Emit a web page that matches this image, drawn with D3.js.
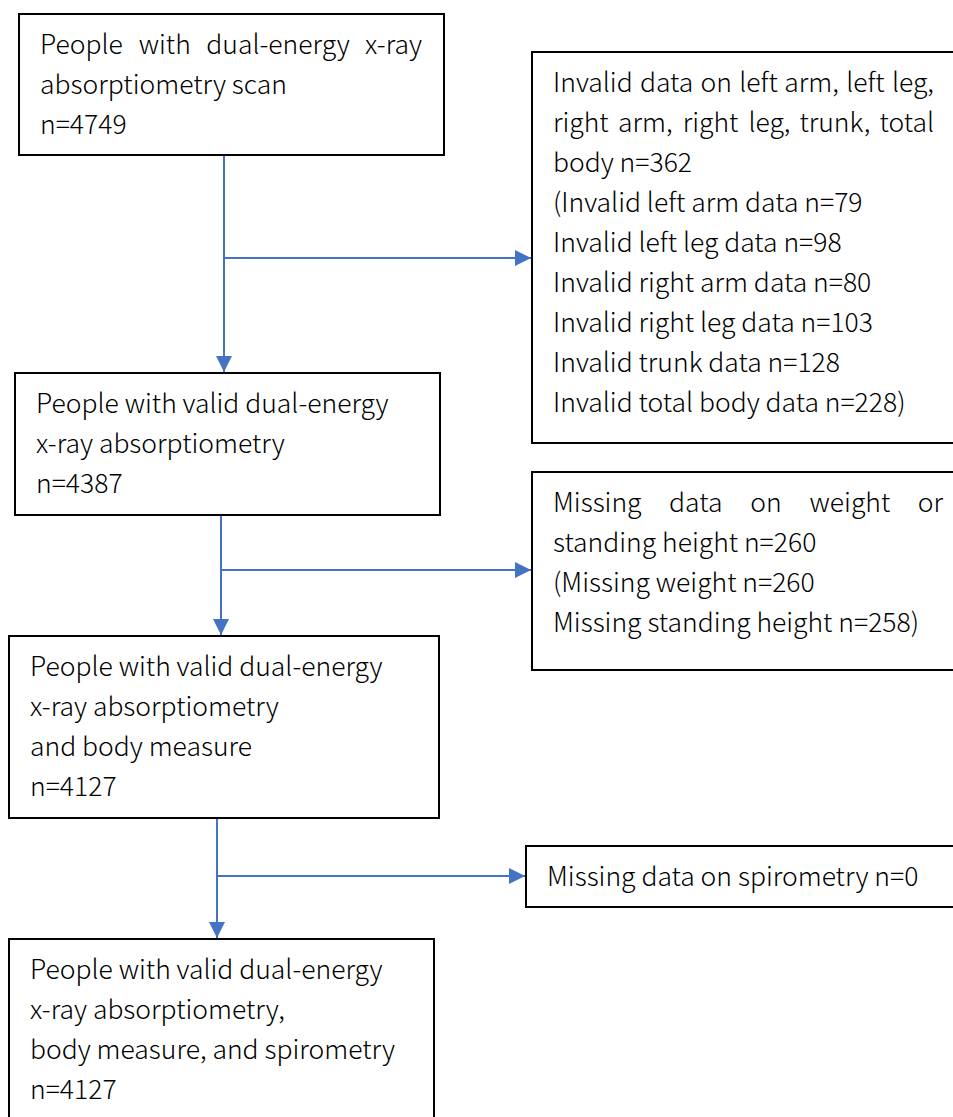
<!DOCTYPE html>
<html>
<head>
<meta charset="utf-8">
<style>
    body { margin: 0; background: #fff; }
    svg { display: block; }
    .box { fill: #fff; stroke: #000; stroke-width: 2; }
    .flow { stroke: #4472C4; stroke-width: 2; fill: none; }
    .label { font-family: "Noto Sans CJK SC", "Noto Sans", sans-serif; font-size: 26.5px; font-weight: 300; fill: #000; }
</style>
</head>
<body>
<svg width="953" height="1117"></svg>

<script src="https://cdn.jsdelivr.net/npm/d3@7/dist/d3.min.js"></script>
<script>
    // text of the main (left) boxes, top to bottom
    let mainText = [
        ["People with dual-energy x-ray", "absorptiometry scan", "n=4749"],
        ["People with valid dual-energy", "x-ray absorptiometry", "n=4387"],
        ["People with valid dual-energy", "x-ray absorptiometry", "and body measure", "n=4127"],
        ["People with valid dual-energy", "x-ray absorptiometry,", "body measure, and spirometry", "n=4127"]
    ]

    // text of the exclusion (right) boxes
    let exclText = [
        ["Invalid data on left arm, left leg,", "right arm, right leg, trunk, total", "body n=362",
         "(Invalid left arm data n=79", "Invalid left leg data n=98", "Invalid right arm data n=80",
         "Invalid right leg data n=103", "Invalid trunk data n=128", "Invalid total body data n=228)"],
        ["Missing data on weight or", "standing height n=260", "(Missing weight n=260", "Missing standing height n=258)"],
        ["Missing data on spirometry n=0"]
    ]

    // layout
    let mainBoxes = [
        { x: 19, y: 14, w: 425, h: 141, just: [382] },
        { x: 15, y: 373, w: 425, h: 142, just: [] },
        { x: 9, y: 636, w: 430, h: 182, just: [] },
        { x: 9, y: 939, w: 425, h: 200, just: [] }
    ]
    let exclBoxes = [
        { x: 532, y: 52, w: 440, h: 391, just: [381, 381] },
        { x: 532, y: 472, w: 440, h: 198, just: [390] },
        { x: 526, y: 846, w: 440, h: 61, just: [] }
    ]
    let connX = [224, 221, 217]
    let branchY = [258, 570, 876]

    let pad = 21, firstLine = 40, lineH = 40

    let svg = d3.select("svg")

    svg.append("defs").append("marker")
        .attr("id", "head")
        .attr("markerUnits", "userSpaceOnUse")
        .attr("viewBox", "0 0 16 16")
        .attr("refX", 16).attr("refY", 8)
        .attr("markerWidth", 16).attr("markerHeight", 16)
        .attr("orient", "auto")
        .append("path")
        .attr("d", "M0,0L16,8L0,16Z")
        .attr("fill", "#4472C4")

    function drawBox(b, lines) {
        let g = svg.append("g")
        g.append("rect").attr("class", "box")
            .attr("x", b.x).attr("y", b.y).attr("width", b.w).attr("height", b.h)

        lines.forEach((line, i) => {
            let x0 = b.x + pad, y = b.y + firstLine + i * lineH
            let t = g.append("text").attr("class", "label").attr("y", y)
            if (b.just[i]) {
                // justified line: spread words across the given width
                let words = line.split(" ")
                let spans = words.map(w => t.append("tspan").text(w))
                let widths = spans.map(s => s.node().getComputedTextLength())
                let gap = (b.just[i] - d3.sum(widths)) / (words.length - 1)
                let cx = x0
                spans.forEach((s, k) => {
                    s.attr("x", cx).attr("y", y)
                    cx += widths[k] + gap
                })
            } else {
                t.attr("x", x0).text(line)
            }
        })
    }

    mainBoxes.forEach((b, i) => drawBox(b, mainText[i]))
    exclBoxes.forEach((b, i) => drawBox(b, exclText[i]))

    // connectors
    connX.forEach((cx, i) => {
        let from = mainBoxes[i], to = mainBoxes[i + 1]
        svg.append("line").attr("class", "flow")
            .attr("x1", cx).attr("y1", from.y + from.h + 1)
            .attr("x2", cx).attr("y2", to.y - 1)
            .attr("marker-end", "url(#head)")
        svg.append("line").attr("class", "flow")
            .attr("x1", cx).attr("y1", branchY[i])
            .attr("x2", exclBoxes[i].x - 1).attr("y2", branchY[i])
            .attr("marker-end", "url(#head)")
    })
</script>
</body>
</html>
